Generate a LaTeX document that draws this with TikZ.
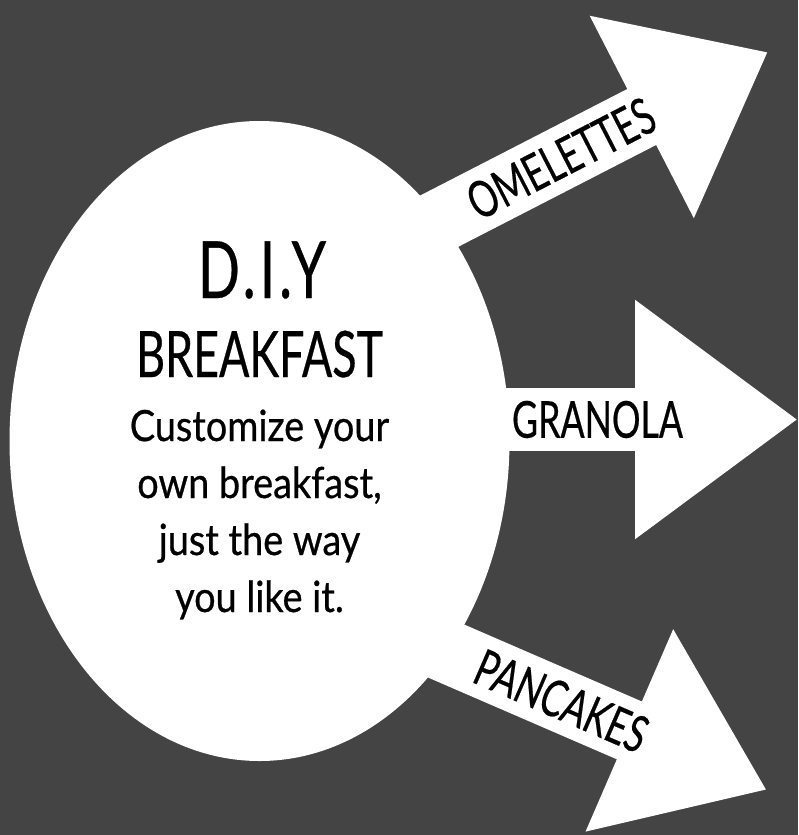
\documentclass[tikz,border=0pt]{standalone}
\usepackage{fontspec}
\setmainfont{Lato}[FakeStretch=0.88, FakeBold=0.6]
\newfontfamily\headfont{Lato}[FakeStretch=0.7, FakeBold=0.4]
\usetikzlibrary{shapes.geometric, arrows.meta, positioning}
\definecolor{board}{HTML}{444444}
\tikzstyle{plate} = [ellipse, fill=white, minimum width=500pt, minimum height=640pt, inner sep=0pt]
\tikzstyle{titletext} = [inner sep=0pt, anchor=base, font=\headfont\addfontfeature{LetterSpace=5}\fontsize{79}{79}\selectfont]
\tikzstyle{subtext} = [inner sep=0pt, anchor=base, font=\headfont\fontsize{64}{64}\selectfont]
\tikzstyle{blurbtext} = [inner sep=0pt, anchor=base, align=center, font=\fontsize{43}{57}\selectfont]
\tikzstyle{dish} = [draw=white, line width=63pt]
\tikzstyle{dishlabel} = [midway, sloped, inner sep=0pt, text=black, font=\headfont\fontsize{51}{51}\selectfont]

\begin{document}
\begin{tikzpicture}[x=1pt, y=-1pt]

    % Backdrop
    \path [use as bounding box, fill=board] (0,0) rectangle (798,835);

    % Arrow ends
    \coordinate (omeTail) at (354,265);
    \coordinate (omeTip) at (768,52);
    \coordinate (graTail) at (397,419.5);
    \coordinate (graTip) at (798,419.5);
    \coordinate (panTail) at (356,612);
    \coordinate (panTip) at (767,790);

    % Arrows: plate -> dishes
    \draw [dish, -{Triangle[length=142pt, width=218pt]}] (omeTail) -- (omeTip) node[dishlabel] (ome) {OMELETTES};
    \draw [dish, -{Triangle[length=163pt, width=228pt]}] (graTail) -- (graTip) node[dishlabel] (gra) {GRANOLA};
    \draw [dish, -{Triangle[length=150pt, width=210pt]}] (panTail) -- (panTip) node[dishlabel] (pan) {PANCAKES};

    % Plate (over the arrow tails)
    \node (diy) [plate] at (259.5,441) {};
    \node (title) [titletext] at (262,298) {D.I.Y};
    \node (sub) [subtext] at (259.5,377) {BREAKFAST};
    % last line sits on the given point
    \node (blurb) [blurbtext] at (259.5,612) {Customize your\\own breakfast,\\just the way\\you like it.};

\end{tikzpicture}
\end{document}
